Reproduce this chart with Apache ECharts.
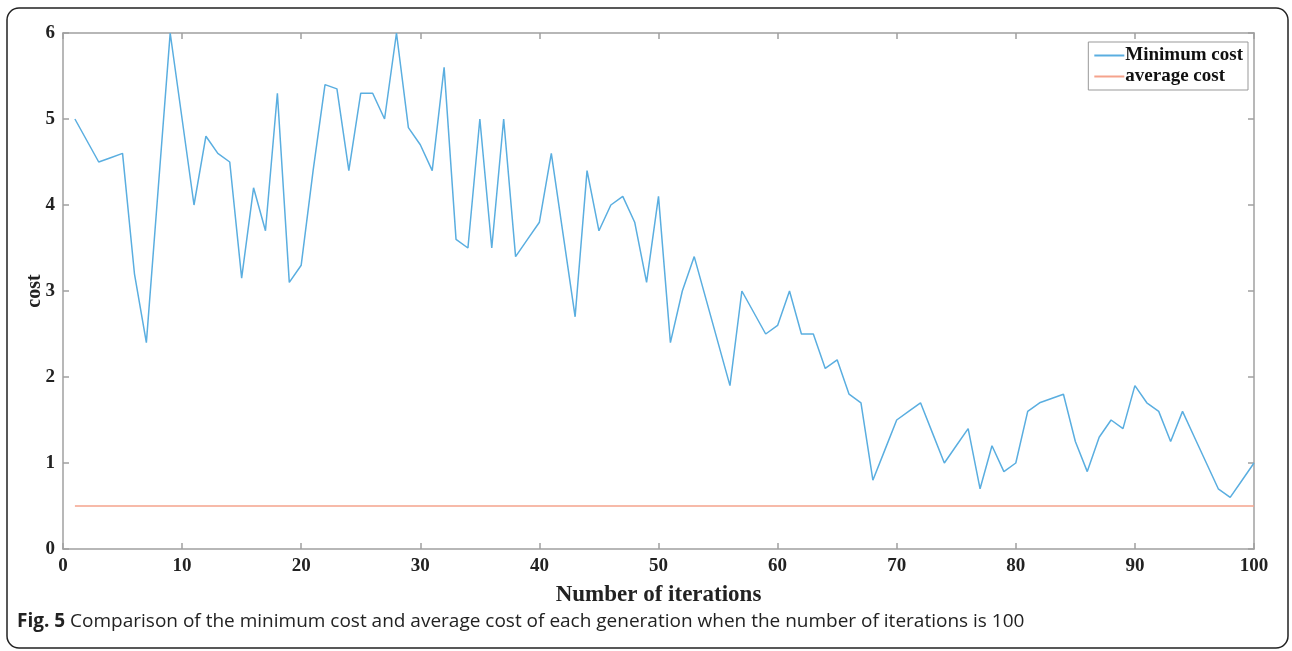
<!DOCTYPE html>
<html>
<head>
<meta charset="utf-8">
<script src="https://cdn.jsdelivr.net/npm/echarts@6/dist/echarts.min.js"></script>
<style>
  html, body { margin: 0; padding: 0; background: #fff; }
  #chart { width: 1292px; height: 651px; }
</style>
</head>
<body>
<div id="chart"></div>
<script>
// iterations 1..100
const iterations = [];
for (let i = 1; i <= 100; i++) iterations.push(i);

// minimum cost per generation
const minCost = [
  5.0, 4.75, 4.5, 4.55, 4.6, 3.2, 2.4, 4.2, 6.0, 5.0,
  4.0, 4.8, 4.6, 4.5, 3.15, 4.2, 3.7, 5.3, 3.1, 3.3,
  4.4, 5.4, 5.35, 4.4, 5.3, 5.3, 5.0, 6.0, 4.9, 4.7,
  4.4, 5.6, 3.6, 3.5, 5.0, 3.5, 5.0, 3.4, 3.6, 3.8,
  4.6, 3.65, 2.7, 4.4, 3.7, 4.0, 4.1, 3.8, 3.1, 4.1,
  2.4, 3.0, 3.4, 2.9, 2.4, 1.9, 3.0, 2.75, 2.5, 2.6,
  3.0, 2.5, 2.5, 2.1, 2.2, 1.8, 1.7, 0.8, 1.15, 1.5,
  1.6, 1.7, 1.35, 1.0, 1.2, 1.4, 0.7, 1.2, 0.9, 1.0,
  1.6, 1.7, 1.75, 1.8, 1.25, 0.9, 1.3, 1.5, 1.4, 1.9,
  1.7, 1.6, 1.25, 1.6, 1.3, 1.0, 0.7, 0.6, 0.8, 1.0
];

// average cost is flat
const avgX = [1, 100];
const avgCost = [0.5, 0.5];

const caption = 'Comparison of the minimum cost and average cost of each generation when the number of iterations is 100';

const serif = 'Liberation Serif';
const axisGray = '#a0a0a0';

const myChart = echarts.init(document.getElementById('chart'));

const labelStyle = { fontFamily: serif, fontWeight: 'bold', fontSize: 19, color: '#222' };
const boxLine = { show: true, onZero: false, lineStyle: { color: axisGray, width: 1.5 } };
const inTick = { show: true, inside: true, length: 6, lineStyle: { color: axisGray, width: 1.5 } };

const option = {
  backgroundColor: '#fff',
  animation: false,
  grid: { left: 63, right: 38, top: 33, bottom: 102, show: false },
  legend: {
    right: 44, top: 42,
    orient: 'vertical',
    itemGap: 2,
    itemWidth: 30,
    itemHeight: 2,
    padding: [4, 5, 4, 6],
    borderColor: '#999', borderWidth: 1,
    backgroundColor: '#fff',
    icon: 'rect',
    textStyle: { fontFamily: serif, fontWeight: 'bold', fontSize: 19, color: '#111', padding: [0, 0, 0, -4] },
    data: ['Minimum cost', 'average cost']
  },
  xAxis: [
    {
      type: 'value', min: 0, max: 100, interval: 10,
      name: 'Number of iterations', nameLocation: 'middle', nameGap: 35,
      nameTextStyle: { fontFamily: serif, fontWeight: 'bold', fontSize: 23, color: '#222' },
      axisLine: boxLine,
      axisTick: inTick,
      axisLabel: Object.assign({ margin: 8 }, labelStyle),
      splitLine: { show: false }
    },
    {
      type: 'value', min: 0, max: 100, interval: 10, position: 'top',
      axisLine: boxLine,
      axisTick: inTick,
      axisLabel: { show: false },
      splitLine: { show: false }
    }
  ],
  yAxis: [
    {
      type: 'value', min: 0, max: 6, interval: 1,
      name: 'cost', nameLocation: 'middle', nameGap: 18, nameRotate: 90,
      nameMoveOverlap: false,
      nameTextStyle: { fontFamily: serif, fontWeight: 'bold', fontSize: 20, color: '#222' },
      axisLine: boxLine,
      axisTick: inTick,
      axisLabel: Object.assign({ margin: 8 }, labelStyle),
      splitLine: { show: false }
    },
    {
      type: 'value', min: 0, max: 6, interval: 1, position: 'right',
      axisLine: boxLine,
      axisTick: inTick,
      axisLabel: { show: false },
      splitLine: { show: false }
    }
  ],
  series: [
    {
      name: 'Minimum cost', type: 'line',
      data: iterations.map((x, i) => [x, minCost[i]]),
      showSymbol: false, symbol: 'none',
      lineStyle: { color: '#5aaee0', width: 1.5 },
      itemStyle: { color: '#5aaee0' }
    },
    {
      name: 'average cost', type: 'line',
      data: avgX.map((x, i) => [x, avgCost[i]]),
      showSymbol: false, symbol: 'none',
      lineStyle: { color: '#f5a38c', width: 1.5 },
      itemStyle: { color: '#f5a38c' }
    }
  ],
  graphic: [
    {
      type: 'rect', silent: true,
      shape: { x: 7, y: 8, width: 1281, height: 640, r: 12 },
      style: { fill: 'none', stroke: '#222', lineWidth: 1.5 }
    },
    {
      type: 'text', left: 17, top: 612, silent: true,
      style: {
        text: '{b|Fig. 5} ' + caption,
        font: '19px "Open Sans"',
        fill: '#222',
        rich: {
          b: { fontFamily: 'Open Sans', fontWeight: 'bold', fontSize: 19, fill: '#222' }
        }
      }
    }
  ]
};

myChart.setOption(option);
</script>
</body>
</html>
